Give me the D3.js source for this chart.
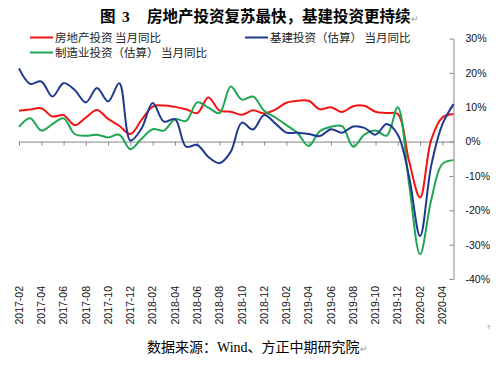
<!DOCTYPE html>
<html>
<head>
<meta charset="utf-8">
<script src="https://cdn.jsdelivr.net/npm/d3@7"></script>
<style>
    body { margin: 0; background: #fff; }
    svg { display: block; }
</style>
</head>
<body>
<div id="chart"></div>
<script>
// Categories (monthly, YoY %)
var months = ["2017-02","2017-03","2017-04","2017-05","2017-06","2017-07","2017-08","2017-09","2017-10","2017-11",
              "2017-12","2018-01","2018-02","2018-03","2018-04","2018-05","2018-06","2018-07","2018-08","2018-09",
              "2018-10","2018-11","2018-12","2019-01","2019-02","2019-03","2019-04","2019-05","2019-06","2019-07",
              "2019-08","2019-09","2019-10","2019-11","2019-12","2020-01","2020-02","2020-03","2020-04","2020-05"];

// Series values
var realEstate = [9, 9.3, 9.7, 7.3, 7.7, 4.8, 7, 9.2, 6.6, 4.6,
                  2.2, 6.3, 10.2, 10.5, 10.1, 9.4, 8.3, 12.8, 9, 8.7,
                  7.8, 9.1, 8.2, 9.3, 11.3, 11.9, 11.9, 9.4, 10, 8.6,
                  10.3, 10.4, 8.7, 8.3, 8, -5.5, -16.3, 0.5, 7, 8];
var infra = [21.3, 16.8, 17.5, 13.1, 17, 15, 11.4, 15.6, 11.7, 17,
             0.3, 3.8, 11.2, 5.8, 6.5, -1.5, -1, -4.5, -6.3, -3,
             5.5, 3.5, 7.7, 5.3, 2.6, 2.6, 2.2, 1.6, 3.6, 2.6,
             4.4, 4, 2, 5.1, 2, -10, -27.5, -7, 5, 10.9];
var manufacturing = [4.3, 6.8, 3.2, 5.1, 6.8, 2.2, 1.7, 2, 1.2, 2,
                     -2.2, 0.8, 3.6, 3.2, 6.5, 6, 11.4, 9.9, 8.3, 16,
                     12.2, 13.1, 9, 7, 4.8, 2.5, -1.3, 3, 4.3, 4.5,
                     -1.5, 2, 3.2, 1.7, 10, -12, -32.8, -17, -6.5, -5.4];

// Axis ticks
var yTicks = [30, 20, 10, 0, -10, -20, -30, -40];
var xTickLabels = months.filter(function (d, i) { return i % 2 === 0; });

var seriesNames = ["房地产投资 当月同比", "基建投资（估算） 当月同比", "制造业投资（估算） 当月同比"];
var seriesColors = ["#f01414", "#1d3a8f", "#1fa653"];

var width = 496, height = 366;

var svg = d3.select("#chart")
    .append("svg")
        .attr("width", width)
        .attr("height", height)
        .style("font-family", "'Liberation Sans', 'Noto Sans CJK SC', sans-serif");

// Scales
var x = d3.scalePoint()
    .domain(months)
    .range([19, 453.5]);

var y = d3.scaleLinear()
    .domain([-40, 30])
    .range([279, 38.5]);

// Title
var title = svg.append("text")
    .attr("y", 22)
    .style("font-family", "'Liberation Serif', 'Noto Sans CJK SC', serif")
    .style("font-weight", "bold")
    .style("font-size", "15.5px")
    .attr("fill", "#000");
title.append("tspan").attr("x", 100).text("图");
title.append("tspan").attr("x", 122).text("3");
title.append("tspan").attr("x", 147).text("房地产投资复苏最快，基建投资更持续");
title.append("tspan")
    .style("font-weight", "normal")
    .style("font-size", "9px")
    .attr("fill", "#999")
    .text("↵");

// Legend
var legendPos = [[30, 37.5], [245, 37.5], [30, 52.5]];
var legend = svg.selectAll(".legend")
    .data(seriesNames)
    .enter().append("g")
        .attr("class", "legend")
        .attr("transform", function (d, i) { return "translate(" + legendPos[i][0] + "," + legendPos[i][1] + ")"; });

legend.append("line")
    .attr("x1", 0)
    .attr("x2", 23)
    .attr("stroke", function (d, i) { return seriesColors[i]; })
    .attr("stroke-width", 2);

legend.append("text")
    .attr("x", 25)
    .attr("dy", "0.36em")
    .style("font-family", "'Noto Sans CJK SC', sans-serif")
    .style("font-size", "11.5px")
    .attr("fill", "#222")
    .text(function (d) { return d; });

// Right y axis
var yAxis = svg.append("g")
    .attr("transform", "translate(" + x.range()[1] + ",0)")
    .call(d3.axisRight(y)
        .tickValues(yTicks)
        .tickSize(0)
        .tickPadding(12)
        .tickFormat(function (d) { return d + "%"; }));
yAxis.select(".domain").attr("stroke", "#868686");
yAxis.selectAll("text")
    .attr("fill", "#111")
    .style("font-size", "10.5px");
yAxis.selectAll(".tick")
    .append("line")
        .attr("x1", -4)
        .attr("x2", 0)
        .attr("stroke", "#868686");

// X axis at zero
var xAxis = svg.append("g")
    .attr("transform", "translate(0," + y(0) + ")")
    .call(d3.axisBottom(x)
        .tickValues(xTickLabels)
        .tickSize(4)
        .tickSizeOuter(0)
        .tickFormat(""));
xAxis.select(".domain").attr("stroke", "#868686");
xAxis.selectAll(".tick line").attr("stroke", "#868686");

// Rotated month labels, below the plot
svg.append("g")
    .selectAll("text")
    .data(xTickLabels)
    .enter().append("text")
        .attr("transform", function (d) { return "translate(" + x(d) + ",286) rotate(-90)"; })
        .attr("text-anchor", "end")
        .attr("dy", "0.35em")
        .style("font-size", "10.5px")
        .attr("fill", "#111")
        .text(function (d) { return d; });

// Smoothed lines
var line = d3.line()
    .x(function (d, i) { return x(months[i]); })
    .y(function (d) { return y(d); })
    .curve(d3.curveCatmullRom.alpha(0.5));

svg.selectAll(".series")
    .data([realEstate, manufacturing, infra])
    .enter().append("path")
        .attr("class", "series")
        .attr("d", line)
        .attr("fill", "none")
        .attr("stroke", function (d, i) { return [seriesColors[0], seriesColors[2], seriesColors[1]][i]; })
        .attr("stroke-width", 2);

// Source note
var source = svg.append("text")
    .attr("x", 147)
    .attr("y", 352)
    .style("font-family", "'Liberation Serif', 'Noto Sans CJK SC', serif")
    .style("font-size", "14px")
    .attr("fill", "#000");
source.append("tspan").text("数据来源：Wind、方正中期研究院");
source.append("tspan")
    .style("font-size", "9px")
    .attr("fill", "#999")
    .text("↵");

// Small paragraph anchor at the right edge
svg.append("text")
    .attr("x", 486)
    .attr("y", 330)
    .style("font-size", "9px")
    .attr("fill", "#aaa")
    .text("+");
</script>
</body>
</html>
